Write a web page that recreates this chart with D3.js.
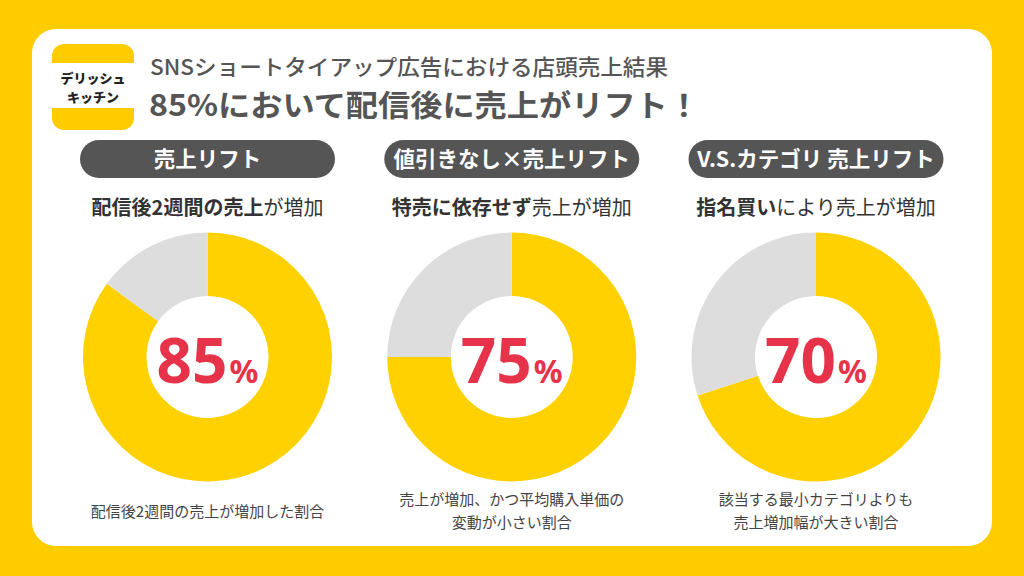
<!DOCTYPE html>
<html lang="ja">
<head>
<meta charset="utf-8">
<title>店頭売上結果</title>
<script src="https://cdn.jsdelivr.net/npm/d3@7"></script>
<style>
  body { margin: 0; background: #FFCC00; }
  svg { display: block; font-family: "Noto Sans CJK JP", "Noto Sans", sans-serif; }
</style>
</head>
<body>
<div id="chart"></div>
<script>
// values
var pillLabels = ["売上リフト", "値引きなし×売上リフト", "V.S.カテゴリ 売上リフト"]
var leadBold = ["配信後2週間の売上", "特売に依存せず", "指名買い"]
var leadRest = ["が増加", "売上が増加", "により売上が増加"]
var liftShares = [85, 75, 70]
var captions = [
  ["配信後2週間の売上が増加した割合"],
  ["売上が増加、かつ平均購入単価の", "変動が小さい割合"],
  ["該当する最小カテゴリよりも", "売上増加幅が大きい割合"]
]

var w = 1024, h = 576
var yellow = "#FFCC00", donutYellow = "#FFD100", grey = "#DDDDDD", red = "#E6334A", dark = "#555555"

var svg = d3.select("#chart").append("svg").attr("width", w).attr("height", h)

svg.append("rect").attr("width", w).attr("height", h).attr("fill", yellow)
svg.append("rect").attr("x", 32).attr("y", 29).attr("width", 960).attr("height", 517)
  .attr("rx", 24).attr("fill", "#fff")

// logo
var logo = svg.append("g")
logo.append("rect").attr("x", 52).attr("y", 44).attr("width", 82).attr("height", 86).attr("rx", 12).attr("fill", yellow)
logo.append("rect").attr("x", 52).attr("y", 63).attr("width", 82).attr("height", 45).attr("fill", "#fff")
logo.selectAll("text").data(["デリッシュ", "キッチン"]).enter().append("text")
  .attr("x", 93).attr("y", function(d, i) { return 83 + i * 19 })
  .attr("text-anchor", "middle").attr("font-size", 13).attr("font-weight", 900).attr("fill", "#222")
  .text(function(d) { return d })

// title
svg.append("text").attr("x", 150).attr("y", 75).attr("font-size", 21.5).attr("font-weight", 500)
  .attr("fill", dark).attr("textLength", 518).attr("lengthAdjust", "spacingAndGlyphs")
  .text("SNSショートタイアップ広告における店頭売上結果")
svg.append("text").attr("x", 149).attr("y", 116).attr("font-size", 30).attr("font-weight", 700)
  .attr("fill", dark).attr("textLength", 551).attr("lengthAdjust", "spacingAndGlyphs")
  .text("85%において配信後に売上がリフト！")

var xScale = d3.scalePoint().domain(d3.range(liftShares.length)).range([207.5, 816])
var cy = 357

var pie = d3.pie().sort(null).value(function(d) { return d })
var arc = d3.arc().innerRadius(61).outerRadius(124.5)

var panels = svg.selectAll(".panel").data(liftShares).enter().append("g")
  .attr("class", "panel")
  .attr("transform", function(d, i) { return "translate(" + xScale(i) + ",0)" })

// pill labels
panels.append("rect").attr("x", -127.5).attr("y", 140).attr("width", 255).attr("height", 38)
  .attr("rx", 19).attr("fill", dark)
panels.append("text").attr("y", 167).attr("text-anchor", "middle").attr("font-size", 21.5)
  .attr("font-weight", 700).attr("fill", "#fff")
  .text(function(d, i) { return pillLabels[i] })

// lead text
var lead = panels.append("text").attr("y", 215).attr("text-anchor", "middle")
  .attr("font-size", 20).attr("fill", "#333")
lead.append("tspan").attr("font-weight", 700).text(function(d, i) { return leadBold[i] })
lead.append("tspan").attr("font-weight", 400).text(function(d, i) { return leadRest[i] })

// donuts
var donut = panels.append("g").attr("transform", "translate(0," + cy + ")")
donut.selectAll("path").data(function(d) { return pie([d, 100 - d]) }).enter().append("path")
  .attr("d", arc)
  .attr("fill", function(d, i) { return i == 0 ? donutYellow : grey })

var big = donut.append("text").attr("y", 26).attr("text-anchor", "middle").attr("fill", red)
  .attr("font-family", "'Noto Sans', sans-serif").attr("font-weight", 700)
big.append("tspan").attr("font-size", 62).text(function(d) { return d })
big.append("tspan").attr("font-size", 32).attr("dx", 2).text("%")

// captions
panels.each(function(d, i) {
  var lines = captions[i]
  var top = lines.length == 1 ? 517 : 505
  d3.select(this).selectAll(".cap").data(lines).enter().append("text")
    .attr("class", "cap")
    .attr("y", function(l, j) { return top + j * 23 })
    .attr("text-anchor", "middle").attr("font-size", 15).attr("fill", "#444")
    .text(function(l) { return l })
})
</script>
</body>
</html>
